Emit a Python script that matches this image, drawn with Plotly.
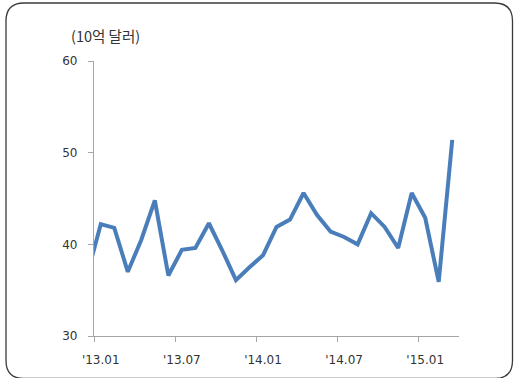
import plotly.graph_objects as go

# Monthly values, billions of dollars; index 0 = 2013.01 (2012.12 sits just left of the axis)
months = ["2012.12",
          "2013.01", "2013.02", "2013.03", "2013.04", "2013.05", "2013.06",
          "2013.07", "2013.08", "2013.09", "2013.10", "2013.11", "2013.12",
          "2014.01", "2014.02", "2014.03", "2014.04", "2014.05", "2014.06",
          "2014.07", "2014.08", "2014.09", "2014.10", "2014.11", "2014.12",
          "2015.01", "2015.02", "2015.03"]
values = [36.7,
          42.2, 41.8, 37.0, 40.5, 44.8, 36.6,
          39.4, 39.6, 42.3, 39.3, 36.1, 37.5,
          38.8, 41.9, 42.7, 45.6, 43.2, 41.4,
          40.8, 40.0, 43.4, 41.9, 39.6, 45.6,
          42.9, 35.9, 51.4]
tick_labels = ["'13.01", "'13.07", "'14.01", "'14.07", "'15.01"]
y_ticks = [30, 40, 50, 60]

# month offset from 2013.01
xs = [(int(m[:4]) - 2013) * 12 + int(m[5:]) - 1 for m in months]
label_pos = [0, 6, 12, 18, 24]
boundary_pos = [p - 0.5 for p in label_pos]

W, H = 514, 378
L, R, T, B = 94, 55, 61, 42
pw, ph = W - L - R, H - T - B


def px(x):
    return (x - L) / pw


def py(y):
    return (H - B - y) / ph


# rounded frame around the whole chart
x0, x1, y0, y1, r = 6, 512.5, 3, 378.5, 18
frame = (f"M {px(x0 + r)},{py(y0)} L {px(x1 - r)},{py(y0)} "
         f"Q {px(x1)},{py(y0)} {px(x1)},{py(y0 + r)} "
         f"L {px(x1)},{py(y1 - r)} Q {px(x1)},{py(y1)} {px(x1 - r)},{py(y1)} "
         f"L {px(x0 + r)},{py(y1)} Q {px(x0)},{py(y1)} {px(x0)},{py(y1 - r)} "
         f"L {px(x0)},{py(y0 + r)} Q {px(x0)},{py(y0)} {px(x0 + r)},{py(y0)} Z")

fig = go.Figure()
fig.add_trace(go.Scatter(
    x=xs, y=values, mode="lines",
    line=dict(color="#4A7EBB", width=4),
    hoverinfo="skip", showlegend=False,
))

axis_font = dict(family="DejaVu Sans, Verdana, sans-serif", size=12, color="#333333")

fig.update_layout(
    width=W, height=H,
    margin=dict(l=L, r=R, t=T, b=B, pad=0),
    paper_bgcolor="white", plot_bgcolor="white",
    xaxis=dict(
        range=[-0.5, 26.5], showgrid=False, zeroline=False,
        showline=True, linecolor="#A6A6A6", linewidth=1.3,
        tickmode="array", tickvals=label_pos, ticktext=tick_labels,
        ticks="", tickfont=axis_font, ticklabelstandoff=12,
        minor=dict(tickmode="array", tickvals=boundary_pos, ticks="outside",
                   ticklen=5, tickcolor="#A6A6A6", tickwidth=1.3),
    ),
    yaxis=dict(
        range=[30, 60], showgrid=False, zeroline=False,
        showline=True, linecolor="#A6A6A6", linewidth=1.3,
        tickmode="array", tickvals=y_ticks,
        ticks="outside", ticklen=5, tickcolor="#A6A6A6", tickwidth=1.3,
        tickfont=axis_font, ticklabelstandoff=8,
    ),
    shapes=[dict(type="path", xref="paper", yref="paper", path=frame,
                 line=dict(color="#3A3A3A", width=1.3), layer="above")],
    annotations=[dict(
        text="(10억 달러)", xref="paper", yref="paper",
        x=px(69), y=py(35), xanchor="left", yanchor="middle",
        showarrow=False,
        font=dict(family="Noto Sans CJK KR", size=14.5, color="#333333"),
    )],
)

fig.write_html("out.html")
